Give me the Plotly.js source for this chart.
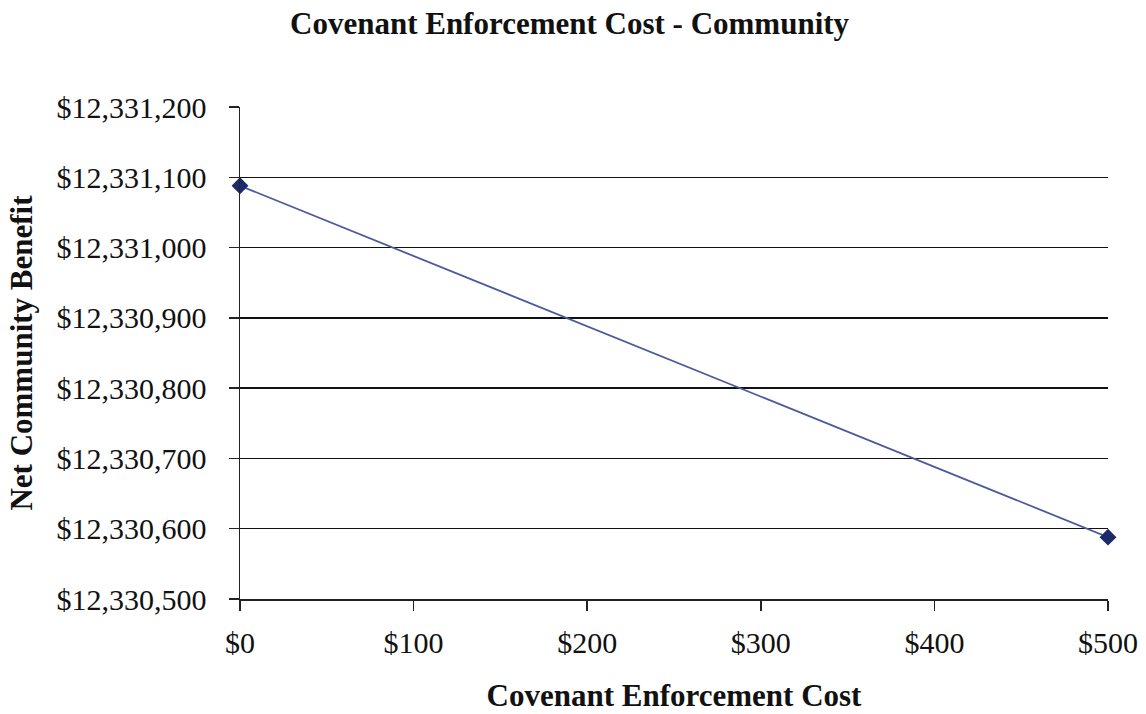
<!DOCTYPE html>
<html>
<head>
<meta charset="utf-8">
<script src="https://cdn.plot.ly/plotly-3.0.1.min.js"></script>
<style>html,body{margin:0;padding:0;background:#fff;}#chart{width:1146px;height:714px;}</style>
</head>
<body>
<div id="chart"></div>
<script>
const enforcementCost = [0, 500];
const netBenefit = [12331088, 12330588];
const xTicks = [0, 100, 200, 300, 400, 500];
const xTickLabels = ['$0', '$100', '$200', '$300', '$400', '$500'];
const yTicks = [12330500, 12330600, 12330700, 12330800, 12330900, 12331000, 12331100, 12331200];
const yTickLabels = ['$12,330,500', '$12,330,600', '$12,330,700', '$12,330,800', '$12,330,900', '$12,331,000', '$12,331,100', '$12,331,200'];

const font = 'Liberation Serif, Times New Roman, serif';
const trace = {
  x: enforcementCost, y: netBenefit, type: 'scatter', mode: 'lines+markers',
  line: {color: '#4b5a9c', width: 1.8},
  marker: {symbol: 'diamond', size: 13, color: '#1c2a6b'},
  cliponaxis: false, showlegend: false
};
const layout = {
  width: 1146, height: 714,
  margin: {l: 240, r: 38, t: 107, b: 115},
  paper_bgcolor: '#ffffff', plot_bgcolor: '#ffffff',
  font: {family: font, color: '#111111', size: 30},
  title: {text: '<b>Covenant Enforcement Cost - Community</b>', x: 0.497, xanchor: 'center', y: 0.968, yanchor: 'middle', font: {family: font, size: 31, color: '#111'}},
  xaxis: {
    range: [0, 500], tickvals: xTicks, ticktext: xTickLabels,
    showgrid: false, zeroline: false, showline: true, linecolor: '#222', linewidth: 1.5,
    ticks: 'outside', ticklen: 10, tickwidth: 1.5, tickcolor: '#222',
    ticklabelstandoff: 6,
    tickfont: {family: font, size: 30, color: '#111'},
    automargin: false,
    title: {text: '<b>Covenant Enforcement Cost</b>', font: {family: font, size: 31, color: '#111'}, standoff: 27}
  },
  yaxis: {
    range: [12330500, 12331200], tickvals: yTicks, ticktext: yTickLabels,
    showgrid: true, gridcolor: '#111', gridwidth: 1.5, zeroline: false,
    showline: true, linecolor: '#222', linewidth: 1.5,
    ticks: 'outside', ticklen: 10, tickwidth: 1.5, tickcolor: '#222',
    ticklabelstandoff: 16,
    tickfont: {family: font, size: 30, color: '#111'},
    automargin: false,
    title: {text: '<b>Net Community Benefit</b>', font: {family: font, size: 31, color: '#111'}, standoff: 14}
  }
};
Plotly.newPlot('chart', [trace], layout, {displayModeBar: false, staticPlot: true});
</script>
</body>
</html>
